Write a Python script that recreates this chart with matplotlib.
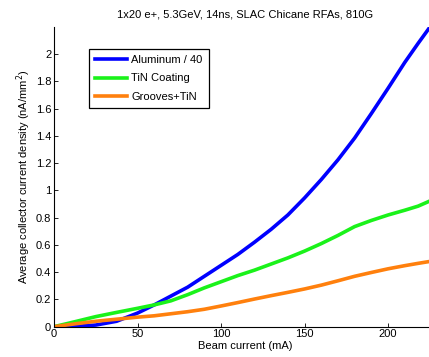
import matplotlib
matplotlib.use("Agg")
import matplotlib.pyplot as plt

plt.rcParams['font.family'] = ['Liberation Sans', 'DejaVu Sans']
plt.rcParams['font.size'] = 8

# values
beam = [0, 12, 25, 37.5, 50, 60, 70, 80, 90, 100, 110, 120, 130, 140, 150, 160, 170, 180, 190, 200, 210, 218, 224.5]
aluminum = [0, 0.002, 0.012, 0.04, 0.10, 0.16, 0.225, 0.29, 0.37, 0.45, 0.53, 0.62, 0.715, 0.82, 0.945,
            1.08, 1.225, 1.385, 1.565, 1.75, 1.94, 2.08, 2.19]
tin = [0, 0.035, 0.074, 0.105, 0.135, 0.16, 0.19, 0.235, 0.285, 0.33, 0.375, 0.415, 0.46, 0.505, 0.555,
       0.61, 0.67, 0.735, 0.78, 0.82, 0.855, 0.885, 0.92]
grooves = [0, 0.02, 0.04, 0.055, 0.07, 0.08, 0.095, 0.11, 0.128, 0.152, 0.177, 0.203, 0.228, 0.252, 0.277,
           0.305, 0.337, 0.37, 0.398, 0.425, 0.448, 0.465, 0.478]

xticks = [0, 50, 100, 150, 200]
yticks = [0, 0.2, 0.4, 0.6, 0.8, 1, 1.2, 1.4, 1.6, 1.8, 2]
ytick_labels = ["0", "0.2", "0.4", "0.6", "0.8", "1", "1.2", "1.4", "1.6", "1.8", "2"]

fig = plt.figure(figsize=(4.29, 3.57), dpi=100)
ax = fig.add_axes([54/429, 1 - 326.7/357, (436 - 54)/429, (326.7 - 27)/357])

ax.plot(beam, aluminum, color=(0, 0, 1), lw=2.6, label="Aluminum / 40")
ax.plot(beam, tin, color=(0.1, 0.95, 0.1), lw=2.6, label="TiN Coating")
ax.plot(beam, grooves, color=(1, 0.5, 0.05), lw=2.6, label="Grooves+TiN")

ax.set_xlim(0, 228.7)
ax.set_ylim(0, 2.2)
ax.set_xticks(xticks)
ax.set_yticks(yticks)
ax.set_yticklabels(ytick_labels)
ax.tick_params(direction="in", length=3, width=0.6, pad=2, top=False, right=False)
ax.spines['top'].set_visible(False)
ax.spines['right'].set_visible(False)
ax.spines['left'].set_linewidth(0.8)
ax.spines['bottom'].set_linewidth(0.8)

ax.set_xlabel("Beam current (mA)", labelpad=1)
ax.set_ylabel("Average collector current density (nA/mm$^2$)", labelpad=2)
ax.set_title("1x20 e+, 5.3GeV, 14ns, SLAC Chicane RFAs, 810G", fontsize=8, pad=7)

leg = ax.legend(loc="upper left", bbox_to_anchor=((88.7 - 54)/382, (326.7 - 49)/299.7),
                fancybox=False, framealpha=1, edgecolor="black", handlelength=2.9,
                borderpad=0.55, labelspacing=0.75, handletextpad=0.4, borderaxespad=0)
leg.get_frame().set_linewidth(0.9)

fig.savefig("out.png", dpi=100)
